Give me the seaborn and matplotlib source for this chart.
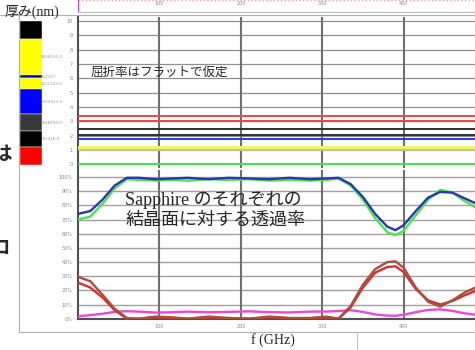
import numpy as np
import pandas as pd
import matplotlib.pyplot as plt
import seaborn as sns
from matplotlib.lines import Line2D

sns.set_style("white")
plt.rcParams['font.family'] = ['DejaVu Sans', 'Noto Sans CJK JP']
JP = ['Noto Sans CJK JP', 'DejaVu Sans']
MIX = ['Liberation Serif', 'Noto Sans CJK JP']

# --- data ---
freq = [0, 15, 30, 45, 60, 75, 95, 115, 135, 160, 185, 210, 235, 260, 285,
        305, 320, 335, 350, 365, 380, 390, 400, 415, 430, 445, 460, 475, 490]
t_blue = [74, 76, 84, 94, 99.5, 99.5, 98.5, 99, 99.5, 98.5, 99.5, 99, 98.5, 99.5, 98.5,
          99, 99.5, 95, 86, 74, 65, 62.5, 66, 76, 85.5, 89.5, 89, 85, 81]
t_green = [70, 72, 81, 92, 98.5, 98, 97.5, 98, 97.5, 98.5, 98, 98.5, 97.5, 98, 97.5,
           98, 99, 94, 84, 71, 61, 59, 62, 73, 84, 91, 89, 83, 78]
t_brown = [29.5, 26.5, 17, 7, 0.5, 0, 1.5, 1, 0, 1.5, 0.5, 0, 1.5, 0.5, 0.5,
           1.5, 0, 9, 24, 35, 40, 40.5, 36, 22, 12, 8.5, 13, 18.5, 22.5]
t_red = [25.5, 22, 15, 6, 0, 0, 1, 0.5, 0, 1, 0.3, 0, 1, 0.3, 0.3,
         1, 0, 8, 22, 32.5, 36.5, 37, 33, 21, 13, 10, 12.5, 16.5, 20]
t_magenta = [1.7, 2.5, 3.5, 4.8, 5.3, 5, 4.3, 4.5, 5, 4.5, 4.8, 5.2, 4.6, 4.4, 5,
             5, 5.4, 6, 4.8, 3, 2.2, 2, 2.8, 4.6, 6.2, 6.6, 5.5, 3.8, 2.7]

n_levels = [3.35, 3.0, 2.45, 2.05, 1.75, 1.2, 1.0, 0.0]
n_colors = ['#e84848', '#e84848', '#303030', '#303030', '#2840d0', '#f4f070', '#c8c09c', '#48e048']

layer_thick = [18, 35, 3, 11, 24, 17, 15, 18]
layer_colors = ['#000000', '#ffff00', '#0000c8', '#ffff00', '#0000ff', '#383838', '#000000', '#ff0000']
layer_labels = ['', '2608153.0', '712267', '1211153.0', '2355913.0', '1548434.0', '152416.0', '']

xticks = [100, 200, 300, 400]

W, H = 475, 350
fig = plt.figure(figsize=(4.75, 3.5), dpi=100)


def px_axes(x0, y0, x1, y1):
    return fig.add_axes([x0 / W, 1 - y1 / H, (x1 - x0) / W, (y1 - y0) / H])


xmax = (475 - 78) / 0.814
small = dict(fontsize=3.5, color='#888888')

# top strip
ax0 = px_axes(78, 0, 475, 12)
ax0.set_xlim(0, xmax)
ax0.set_ylim(0, 1)
ax0.set_yticks([])
ax0.set_xticks(xticks)
ax0.set_xticklabels([str(v) for v in xticks], **small)
ax0.tick_params(axis='x', length=0, pad=-8)
for s in ['top', 'right']:
    ax0.spines[s].set_visible(False)
ax0.spines['left'].set_color('#d040d0')
ax0.spines['bottom'].set_color('#bbbbbb')
ax0.axhline(0.97, color='#f0a0a0', lw=1, ls=':')

# refractive index panel
ax1 = px_axes(78, 17.4, 475, 168)
ax1.set_xlim(0, xmax)
ax1.set_ylim(-0.25, 10.25)
ax1.set_yticks(range(0, 11))
ax1.set_yticklabels([str(v) for v in range(0, 11)], **small)
ax1.set_xticks([])
for v in range(1, 11):
    ax1.axhline(v, color='#909090', lw=0.9, zorder=1)
for v in xticks:
    ax1.axvline(v, color='#707070', lw=1.5, zorder=1)
for lev, c in zip(n_levels, n_colors):
    ax1.axhline(lev, color=c, lw=2.2 if c == '#f4f070' else 1.4, zorder=3)
ax1.tick_params(axis='y', length=2, width=0.6, color='#999999', pad=2)
for s in ['top', 'right', 'bottom']:
    ax1.spines[s].set_visible(False)
ax1.spines['left'].set_color('#505050')
ax1.spines['left'].set_linewidth(1.5)
ax1.text(16, 6.44, '屈折率はフラットで仮定', family=JP, fontsize=9, va='center', ha='left')

# transmission panel
ax2 = px_axes(78, 170, 475, 318.7)
df = pd.DataFrame({
    'f': freq * 5,
    'T': t_magenta + t_red + t_brown + t_green + t_blue,
    'series': ['magenta'] * len(freq) + ['red'] * len(freq) + ['brown'] * len(freq)
              + ['green'] * len(freq) + ['blue'] * len(freq),
})
palette = {'magenta': '#e848e0', 'red': '#d83030', 'brown': '#a8503c',
           'green': '#50e050', 'blue': '#2838b0'}
for v in range(10, 101, 10):
    ax2.axhline(v, color='#a0a0a0', lw=1.0, zorder=1)
for v in xticks:
    ax2.axvline(v, color='#707070', lw=1.5, zorder=1)
sns.lineplot(data=df, x='f', y='T', hue='series', palette=palette, legend=False,
             ax=ax2, lw=1.7, zorder=3)
ax2.set_xlim(0, xmax)
ax2.set_ylim(0, 105)
ax2.set_xlabel('')
ax2.set_ylabel('')
ax2.set_yticks(range(0, 101, 10))
ax2.set_yticklabels([f'{v}%' for v in range(0, 101, 10)], **small)
ax2.set_xticks(xticks)
ax2.set_xticklabels([str(v) for v in xticks], **small)
ax2.tick_params(axis='both', length=2, width=0.6, color='#999999', pad=2)
for s in ['top', 'right']:
    ax2.spines[s].set_visible(False)
for s in ['left', 'bottom']:
    ax2.spines[s].set_color('#505050')
    ax2.spines[s].set_linewidth(1.5)
ax2.text(58, 76.7, 'Sapphire のそれぞれの\n結晶面に対する透過率', family=MIX,
         fontsize=13, va='center', ha='left', linespacing=1.25)

# thickness legend bar
ax3 = px_axes(19.5, 21, 42, 165)
bottom = np.cumsum([0] + layer_thick[:-1])
ax3.bar([0] * len(layer_thick), layer_thick, bottom=bottom, color=layer_colors,
        width=1, edgecolor='white', linewidth=0.3)
for b, t, lab in zip(bottom, layer_thick, layer_labels):
    if lab:
        ax3.text(0.45, b + t / 2, lab, fontsize=3, color='#999999', va='center', ha='left',
                 clip_on=False)
ax3.set_xlim(-0.5, 0.5)
ax3.set_ylim(sum(layer_thick), 0)
ax3.axis('off')

# frame lines and slide text
fig.add_artist(Line2D([0, 1], [1 - 14.5 / H] * 2, color='#b0b0b0', lw=0.8))
fig.add_artist(Line2D([19 / W] * 2, [1 - 14.5 / H, 1 - 332 / H], color='#b0b0b0', lw=0.8))
fig.add_artist(Line2D([19 / W, 1], [1 - 332 / H] * 2, color='#b0b0b0', lw=0.8))
fig.add_artist(Line2D([357 / W] * 2, [1 - 332 / H, 0], color='#c0c0c0', lw=0.8))
fig.text(5 / W, 1 - 12 / H, '厚み(nm)', family=MIX, fontsize=10, va='center', ha='left')
fig.text(273 / W, 1 - 340 / H, 'f (GHz)', family=MIX, fontsize=10, va='center', ha='center')
fig.text(-8 / W, 1 - 154 / H, 'は', family=JP, fontsize=14, fontweight='bold', va='center')
fig.text(-9 / W, 1 - 248 / H, 'ロ', family=JP, fontsize=14, fontweight='bold', va='center')

fig.savefig('out.png', dpi=100)
